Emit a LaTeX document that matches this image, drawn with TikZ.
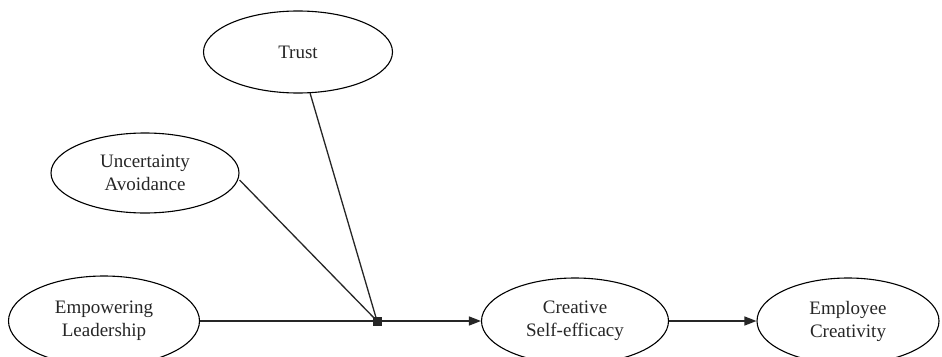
\documentclass[tikz,border=0pt]{standalone}
\usepackage{fontspec}
\setmainfont{Liberation Serif}
\usetikzlibrary{shapes.geometric,arrows.meta,calc}
\begin{document}
\begin{tikzpicture}[x=1pt,y=-1pt,
  var/.style={ellipse,draw,line width=1.1pt,inner sep=0pt,align=center,
    font=\fontsize{19}{23}\selectfont,text=black!85},
  link/.style={line width=1.3pt,draw=black!85},
  arr/.style={link,-{Triangle[length=12pt,width=9pt]}}]
\useasboundingbox (0,0) rectangle (942,356);
\clip (0,0) rectangle (942,356);
\fill[white] (0,0) rectangle (942,356);
\node[var,minimum width=189pt,minimum height=82pt] (trust) at (298,52) {Trust};
\node[var,minimum width=188pt,minimum height=80pt] (ua) at (145,173) {Uncertainty\\Avoidance};
\node[var,minimum width=191pt,minimum height=90pt] (el) at (104,321) {Empowering\\Leadership};
\node[var,minimum width=187pt,minimum height=86pt] (cse) at (575,321) {Creative\\Self-efficacy};
\node[var,minimum width=182pt,minimum height=86pt] (ec) at (848,321) {Employee\\Creativity};
\coordinate (j) at (377,321);
\fill[black!85] ($(j)+(-4.5,-4.5)$) rectangle ($(j)+(4.5,4.5)$);
\draw[link] (trust) -- (j);
\draw[link] ([yshift=-7pt]ua.east) -- (j);
\draw[link] (el) -- (j);
\draw[arr] (j) -- (cse);
\draw[arr] (cse) -- (ec);
\end{tikzpicture}
\end{document}
